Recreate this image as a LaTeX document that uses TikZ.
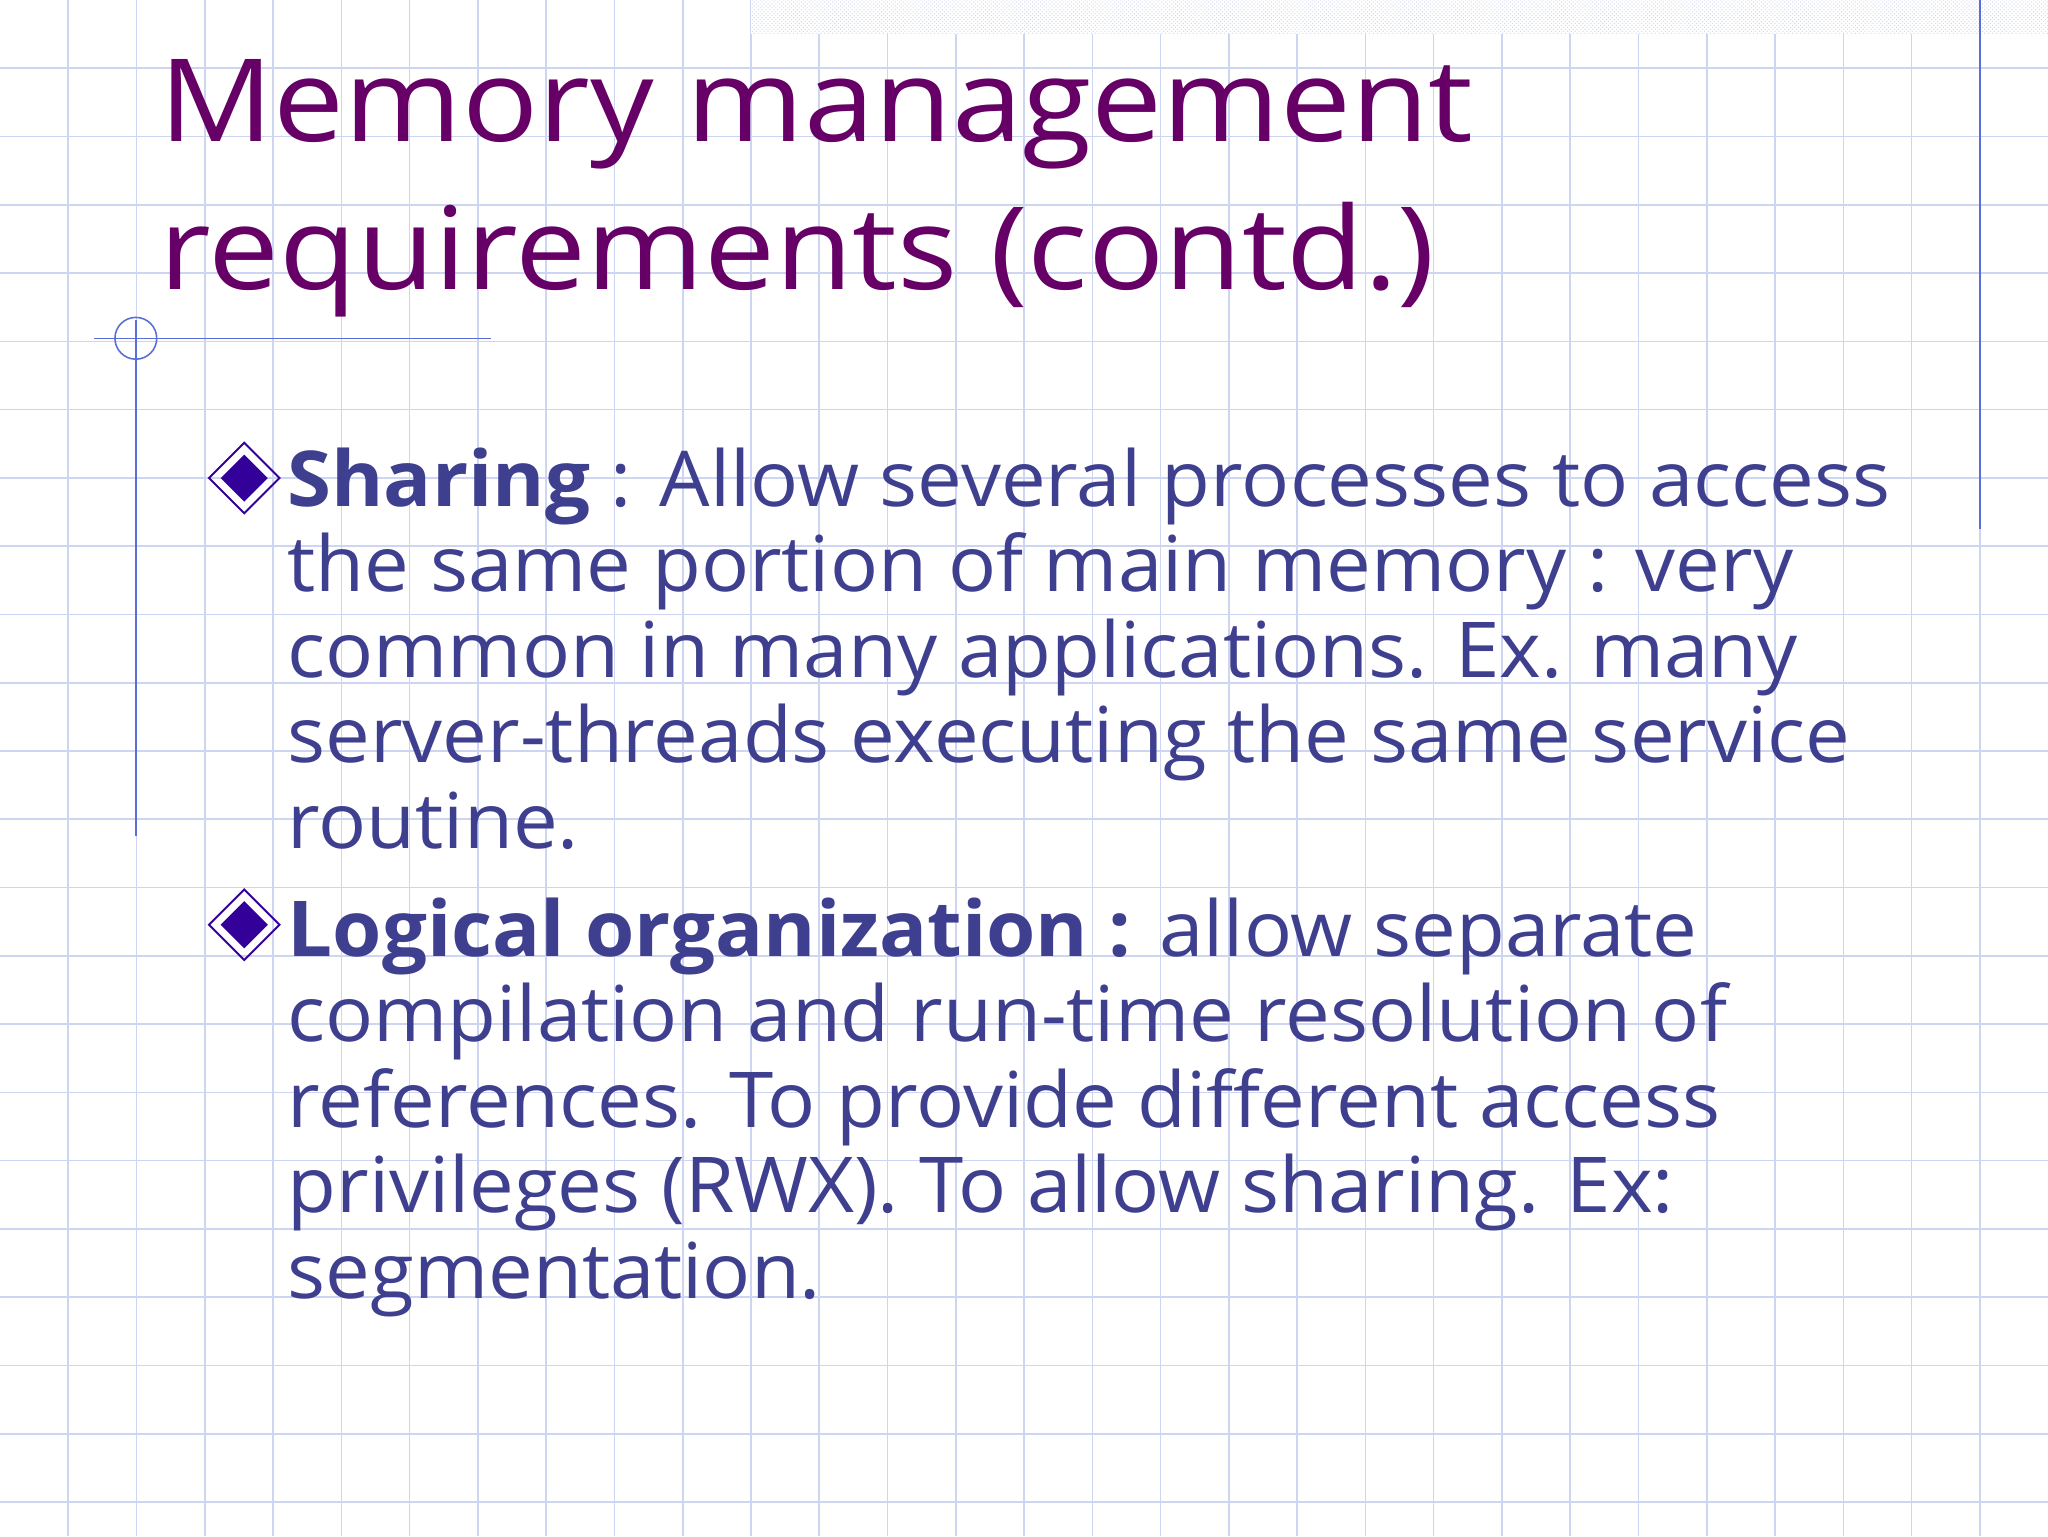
\documentclass[tikz,border=0pt]{standalone}
\usepackage{fontspec}
\setmainfont{Open Sans}
\newfontfamily\titlefont[FakeStretch=1.10]{Open Sans}
\newfontfamily\bodyfont[FakeStretch=1.035]{Open Sans}
\usetikzlibrary{patterns}
\definecolor{gridc}{HTML}{CDD5F2}
\definecolor{titlec}{HTML}{660066}
\definecolor{bodyc}{HTML}{3F3F8F}
\definecolor{bulc}{HTML}{330099}
\definecolor{linec}{HTML}{5A6ED8}
\tikzset{
  ttl/.style={anchor=base west,inner sep=0,text=titlec,font=\titlefont\fontsize{88}{100}\selectfont},
  bod/.style={anchor=base west,inner sep=0,text=bodyc,font=\bodyfont\fontsize{59}{66}\selectfont},
  bul/.pic={\draw[bulc,line width=1.5] (0,-27)--(27,0)--(0,27)--(-27,0)--cycle;
            \fill[bulc] (0,-18)--(18,0)--(0,18)--(-18,0)--cycle;}
}
\begin{document}
\begin{tikzpicture}[x=1pt,y=-1pt]
\useasboundingbox (0,0) rectangle (1568,1176);
\fill[white] (0,0) rectangle (1568,1176);
\foreach \i in {1,...,29} \draw[gridc,line width=1.2] (\i*52.27,0)--(\i*52.27,1176);
\foreach \i in {1,...,22} \draw[gridc,line width=1.2] (0,\i*52.27)--(1568,\i*52.27);
\fill[white] (575,0) rectangle (1568,26);
\fill[pattern=crosshatch dots,pattern color=gridc] (575,0) rectangle (1568,26);
\draw[linec,line width=1.2] (1516,0) coordinate (ra)--(1516,405) coordinate (rb);
\draw[linec,line width=1.2] (104,245) coordinate (la)--(104,640) coordinate (lb);
\draw[linec,line width=1.2] (72,259) coordinate (ha)--(376,259) coordinate (hb);
\draw[linec,line width=1.2] (104,259) circle[radius=16];
\node[ttl] (t1) at (122,108) {Memory management};
\node[ttl] (t2) at (122,222) {requirements (contd.)};
\pic at (187,366) {bul};
\pic at (187,708) {bul};
\node[bod] (a1) at (220,388) {\textbf{Sharing} : Allow several processes to access};
\node[bod] (a2) at (220,453) {the same portion of main memory : very};
\node[bod] (a3) at (220,519) {common in many applications. Ex. many};
\node[bod] (a4) at (220,584) {server-threads executing the same service};
\node[bod] (a5) at (220,650) {routine.};
\node[bod] (b1) at (220,732) {\textbf{Logical organization :} allow separate};
\node[bod] (b2) at (220,797) {compilation and run-time resolution of};
\node[bod] (b3) at (220,863) {references. To provide different access};
\node[bod] (b4) at (220,928) {privileges (RWX). To allow sharing. Ex:};
\node[bod] (b5) at (220,994) {segmentation.};
\end{tikzpicture}
\end{document}
